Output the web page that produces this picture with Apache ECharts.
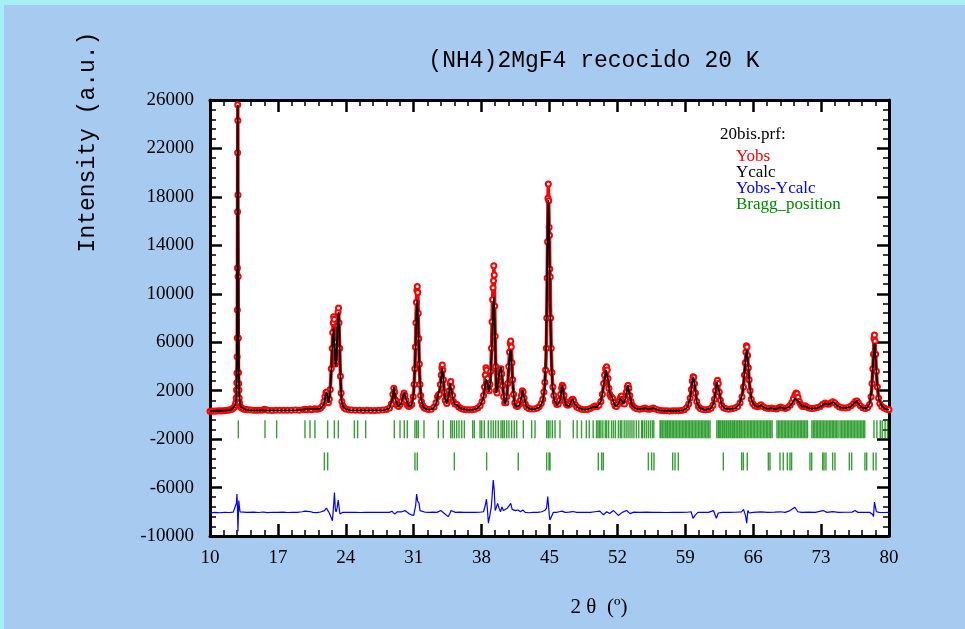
<!DOCTYPE html>
<html>
<head>
<meta charset="utf-8">
<script src="https://cdn.jsdelivr.net/npm/echarts@6/dist/echarts.min.js"></script>
<style>
  html, body { margin: 0; padding: 0; background: #a6caf0; }
  #chart { position: absolute; left: 0; top: 0; width: 965px; height: 629px; }
  .edge { position: absolute; background: #a4f0f4; z-index: 5; }
</style>
</head>
<body>
<div id="chart"></div>
<div class="edge" style="left:0;top:0;width:965px;height:5px"></div>
<div class="edge" style="left:0;top:0;width:4px;height:629px"></div>
<script>
// Rietveld plot, (NH4)2MgF4 recocido 20 K
const xTicks = [10, 17, 24, 31, 38, 45, 52, 59, 66, 73, 80]
const yTicks = [-10000, -6000, -2000, 2000, 6000, 10000, 14000, 18000, 22000, 26000]
const legendLabels = ['Yobs', 'Ycalc', 'Yobs-Ycalc', 'Bragg_position']

// [2θ, counts]
const yObs = [
  [10.0, 300], [10.2, 320], [10.4, 310], [10.6, 330], [10.8, 320], [11.0, 340], [11.2, 330], [11.4, 350],
  [11.6, 360], [11.8, 380], [12.0, 400], [12.2, 450], [12.35, 520], [12.5, 640], [12.6, 800], [12.66, 1000],
  [12.70, 1400], [12.73, 2050], [12.76, 2650], [12.78, 3450], [12.80, 4800], [12.81, 6350], [12.82, 8660],
  [12.83, 12130], [12.84, 16780], [12.85, 21650], [12.86, 25600], [12.87, 24300], [12.88, 18150],
  [12.90, 11420], [12.92, 6350], [12.94, 3500], [12.96, 2600], [12.98, 2050], [13.01, 1400], [13.05, 1000],
  [13.12, 700], [13.2, 600], [13.35, 520], [13.5, 470], [13.7, 440], [13.9, 420], [14.2, 400], [14.5, 390],
  [14.8, 380], [15.1, 380], [15.4, 390], [15.6, 470], [15.75, 420], [16.0, 380], [16.4, 370], [16.8, 390],
  [17.2, 380], [17.6, 380], [18.0, 390], [18.4, 380], [18.8, 400], [19.2, 390], [19.6, 420], [19.8, 470],
  [20.0, 420], [20.3, 480], [20.5, 430], [20.8, 500], [21.0, 460], [21.2, 480], [21.4, 560], [21.6, 750],
  [21.75, 1100], [21.85, 1500], [21.95, 1850], [22.05, 1900], [22.12, 1500], [22.2, 1000], [22.3, 1300],
  [22.4, 2100], [22.5, 3800], [22.6, 5500], [22.65, 6800], [22.7, 7600], [22.75, 8100], [22.8, 7900],
  [22.85, 6000], [22.92, 4200], [23.0, 4400], [23.08, 5600], [23.15, 7400], [23.2, 8500], [23.25, 8830],
  [23.3, 7600], [23.37, 5500], [23.45, 3200], [23.52, 1800], [23.6, 1100], [23.7, 750], [23.85, 560],
  [24.0, 480], [24.3, 430], [24.6, 400], [25.0, 390], [25.4, 380], [25.8, 370], [26.2, 380], [26.6, 370],
  [27.0, 370], [27.4, 380], [27.8, 400], [28.2, 450], [28.5, 560], [28.7, 900], [28.85, 1700], [28.95, 2200],
  [29.05, 1900], [29.15, 1200], [29.3, 800], [29.45, 700], [29.6, 850], [29.75, 1100], [29.9, 1550],
  [30.0, 1800], [30.1, 1600], [30.2, 1200], [30.35, 800], [30.5, 700], [30.65, 750], [30.8, 850],
  [30.95, 1500], [31.05, 2500], [31.12, 3800], [31.18, 5600], [31.23, 7600], [31.28, 9300], [31.33, 10300],
  [31.37, 10600], [31.42, 10100], [31.47, 8400], [31.52, 6300], [31.58, 4200], [31.65, 2500], [31.72, 1600],
  [31.8, 1100], [31.9, 800], [32.05, 600], [32.2, 520], [32.5, 450], [32.8, 470], [33.1, 650], [33.3, 1000],
  [33.45, 1500], [33.55, 1650], [33.65, 1700], [33.75, 2500], [33.83, 3300], [33.9, 3900], [33.95, 4120],
  [34.0, 3700], [34.07, 2900], [34.15, 1900], [34.25, 1200], [34.4, 950], [34.55, 1400], [34.65, 2000],
  [34.75, 2600], [34.82, 2750], [34.9, 2300], [35.0, 1600], [35.1, 1100], [35.25, 900], [35.45, 850],
  [35.65, 650], [35.85, 550], [36.1, 470], [36.4, 430], [36.7, 420], [37.0, 430], [37.3, 470], [37.6, 560],
  [37.85, 750], [38.05, 1100], [38.2, 1600], [38.3, 2300], [38.38, 3300], [38.45, 3900], [38.52, 3700],
  [38.6, 3000], [38.7, 2300], [38.78, 2000], [38.86, 2500], [38.95, 3600], [39.02, 5500], [39.08, 7700],
  [39.13, 9500], [39.18, 10500], [39.23, 11080], [39.26, 12320], [39.3, 11550], [39.35, 9000], [39.4, 6500],
  [39.45, 4000], [39.52, 2000], [39.6, 1800], [39.7, 2500], [39.8, 3200], [39.9, 3700], [40.0, 3800],
  [40.08, 3400], [40.17, 2400], [40.27, 1500], [40.38, 1000], [40.5, 1000], [40.6, 1500], [40.7, 2600],
  [40.8, 4000], [40.88, 5200], [40.95, 5900], [41.0, 6100], [41.06, 5600], [41.13, 4300], [41.2, 2900],
  [41.3, 1700], [41.42, 1000], [41.55, 750], [41.7, 700], [41.85, 850], [42.0, 1200], [42.1, 1600],
  [42.2, 2000], [42.28, 1900], [42.38, 1400], [42.5, 900], [42.65, 650], [42.85, 520], [43.1, 480],
  [43.4, 480], [43.7, 550], [43.95, 700], [44.15, 950], [44.3, 1300], [44.42, 1900], [44.52, 2700],
  [44.6, 3700], [44.67, 5500], [44.72, 8000], [44.76, 11300], [44.8, 14300], [44.84, 17880], [44.88, 19060],
  [44.92, 17690], [44.96, 15490], [45.0, 14830], [45.03, 12050], [45.07, 11410], [45.12, 8000], [45.18, 5500],
  [45.25, 3500], [45.35, 2300], [45.45, 1600], [45.6, 1100], [45.75, 850], [45.9, 900], [46.05, 1200],
  [46.15, 1700], [46.25, 2200], [46.32, 2450], [46.4, 2300], [46.5, 1600], [46.62, 1100], [46.75, 850],
  [46.9, 800], [47.05, 850], [47.2, 1100], [47.3, 1250], [47.4, 1300], [47.5, 1150], [47.65, 850],
  [47.8, 650], [48.0, 560], [48.3, 470], [48.6, 430], [48.9, 450], [49.2, 520], [49.5, 650], [49.7, 740],
  [49.9, 680], [50.1, 800], [50.3, 1100], [50.45, 1700], [50.58, 2600], [50.68, 3300], [50.78, 3800],
  [50.88, 3980], [50.95, 3700], [51.03, 3000], [51.12, 2200], [51.22, 1700], [51.32, 1500], [51.42, 1450],
  [51.52, 1350], [51.62, 1050], [51.75, 750], [51.9, 700], [52.05, 900], [52.2, 1200], [52.32, 1450],
  [52.42, 1560], [52.52, 1300], [52.62, 950], [52.72, 900], [52.82, 1300], [52.92, 1900], [53.02, 2300],
  [53.1, 2450], [53.18, 2200], [53.28, 1600], [53.4, 1100], [53.55, 800], [53.75, 600], [54.0, 500],
  [54.3, 460], [54.6, 500], [54.85, 570], [55.05, 480], [55.3, 460], [55.5, 500], [55.7, 560], [55.9, 480],
  [56.2, 400], [56.5, 360], [56.8, 340], [57.1, 340], [57.4, 330], [57.7, 340], [58.0, 340], [58.3, 350],
  [58.6, 370], [58.9, 420], [59.15, 600], [59.35, 900], [59.5, 1400], [59.62, 2100], [59.72, 2800],
  [59.8, 3150], [59.87, 3100], [59.95, 2600], [60.05, 1800], [60.18, 1100], [60.35, 700], [60.55, 520],
  [60.8, 450], [61.1, 420], [61.4, 450], [61.65, 550], [61.85, 800], [62.0, 1300], [62.12, 2000],
  [62.22, 2600], [62.32, 2850], [62.4, 2600], [62.5, 1900], [62.62, 1200], [62.75, 800], [62.95, 580],
  [63.2, 500], [63.5, 470], [63.8, 500], [64.1, 560], [64.4, 700], [64.65, 1000], [64.85, 1500], [65.0, 2300],
  [65.1, 3300], [65.18, 4300], [65.25, 5200], [65.3, 5710], [65.36, 5600], [65.42, 4900], [65.5, 3900],
  [65.58, 2900], [65.68, 2000], [65.8, 1300], [65.95, 950], [66.15, 750], [66.4, 680], [66.6, 720],
  [66.8, 830], [67.0, 700], [67.3, 560], [67.6, 520], [67.9, 560], [68.1, 520], [68.4, 480], [68.6, 560],
  [68.8, 650], [69.0, 580], [69.3, 530], [69.55, 620], [69.8, 800], [70.0, 1050], [70.15, 1350], [70.3, 1650],
  [70.42, 1800], [70.52, 1750], [70.62, 1450], [70.75, 1100], [70.9, 850], [71.05, 720], [71.2, 700],
  [71.35, 750], [71.5, 650], [71.75, 560], [72.0, 530], [72.3, 540], [72.6, 600], [72.9, 700], [73.15, 850],
  [73.4, 980], [73.6, 900], [73.8, 880], [74.0, 980], [74.2, 1080], [74.4, 1000], [74.65, 800], [74.9, 650],
  [75.2, 580], [75.5, 560], [75.8, 620], [76.1, 750], [76.35, 950], [76.55, 1120], [76.7, 1150], [76.85, 980],
  [77.05, 750], [77.3, 580], [77.55, 530], [77.8, 600], [78.0, 850], [78.15, 1500], [78.25, 2600],
  [78.33, 3800], [78.4, 5000], [78.45, 6300], [78.5, 6600], [78.56, 6100], [78.62, 5000], [78.7, 3600],
  [78.8, 2300], [78.92, 1400], [79.05, 950], [79.25, 700], [79.5, 560], [79.75, 470], [80.0, 430]
]

const yCalc = [
  [10.0, 320], [10.5, 330], [11.0, 340], [11.5, 350], [12.0, 400], [12.3, 480], [12.5, 620], [12.6, 800],
  [12.7, 1300], [12.75, 3000], [12.78, 6000], [12.81, 13000], [12.84, 22500], [12.86, 25600], [12.89, 21000],
  [12.92, 12000], [12.95, 5500], [12.98, 2800], [13.02, 1500], [13.1, 900], [13.2, 650], [13.4, 500],
  [13.7, 430], [14.0, 400], [14.5, 380], [15.0, 370], [15.5, 380], [15.65, 480], [15.8, 380], [16.5, 370],
  [17.0, 380], [18.0, 380], [19.0, 390], [19.8, 450], [20.0, 420], [20.3, 470], [20.5, 430], [20.8, 480],
  [21.0, 450], [21.4, 520], [21.7, 800], [21.9, 1500], [22.0, 1900], [22.1, 1700], [22.2, 1000], [22.35, 1500],
  [22.5, 3500], [22.65, 6300], [22.75, 7200], [22.85, 5600], [22.95, 4000], [23.05, 4600], [23.15, 7400],
  [23.25, 8500], [23.35, 6500], [23.45, 3000], [23.55, 1300], [23.7, 700], [24.0, 480], [24.5, 400],
  [25.0, 380], [25.5, 370], [26.0, 380], [27.0, 370], [28.0, 400], [28.5, 550], [28.8, 1300], [28.97, 2300],
  [29.15, 1200], [29.4, 700], [29.7, 900], [29.9, 1500], [30.03, 1850], [30.2, 1300], [30.5, 700],
  [30.8, 800], [31.0, 1800], [31.15, 4500], [31.28, 8200], [31.37, 9500], [31.47, 7600], [31.6, 3500],
  [31.75, 1400], [31.95, 700], [32.2, 500], [32.5, 430], [33.0, 500], [33.3, 900], [33.5, 1600], [33.6, 1500],
  [33.75, 2300], [33.87, 3500], [33.95, 3850], [34.05, 3100], [34.2, 1400], [34.4, 900], [34.6, 1600],
  [34.75, 2600], [34.85, 2700], [35.0, 1500], [35.2, 900], [35.45, 820], [35.7, 600], [36.0, 480],
  [36.5, 420], [37.0, 420], [37.5, 500], [37.9, 800], [38.2, 1500], [38.45, 2900], [38.6, 2700],
  [38.75, 1900], [38.9, 2600], [39.05, 5500], [39.18, 8800], [39.28, 9750], [39.4, 6000], [39.52, 1800],
  [39.65, 2300], [39.85, 3600], [40.0, 3950], [40.15, 2800], [40.3, 1300], [40.45, 900], [40.6, 1500],
  [40.8, 3800], [40.95, 5400], [41.05, 5100], [41.2, 2600], [41.4, 900], [41.6, 650], [41.9, 800],
  [42.1, 1500], [42.23, 2050], [42.4, 1400], [42.6, 700], [43.0, 480], [43.5, 470], [44.0, 650],
  [44.3, 1100], [44.5, 2200], [44.62, 4500], [44.72, 9500], [44.8, 15000], [44.88, 17750], [44.96, 15500],
  [45.05, 10500], [45.15, 5500], [45.3, 2400], [45.5, 1200], [45.8, 800], [46.1, 1200], [46.25, 2200],
  [46.35, 2450], [46.5, 1500], [46.7, 800], [47.0, 700], [47.25, 1100], [47.4, 1300], [47.6, 900],
  [48.0, 550], [48.5, 430], [49.0, 480], [49.5, 650], [49.7, 730], [49.9, 650], [50.3, 1100], [50.6, 2500],
  [50.8, 3700], [50.9, 3850], [51.05, 2900], [51.2, 1800], [51.45, 1450], [51.6, 1100], [51.8, 700],
  [52.1, 900], [52.3, 1400], [52.45, 1550], [52.65, 900], [52.85, 1400], [53.0, 2200], [53.1, 2450],
  [53.25, 1700], [53.5, 800], [53.8, 550], [54.2, 450], [54.85, 560], [55.2, 450], [55.7, 550], [56.0, 430],
  [56.5, 360], [57.0, 340], [58.0, 340], [58.8, 380], [59.2, 600], [59.5, 1300], [59.7, 2700], [59.83, 3150],
  [59.97, 2500], [60.2, 1000], [60.5, 550], [61.0, 420], [61.6, 500], [61.9, 900], [62.1, 1800],
  [62.25, 2700], [62.34, 2830], [62.5, 1900], [62.75, 800], [63.1, 520], [63.6, 480], [64.2, 550],
  [64.6, 900], [64.9, 1800], [65.1, 3500], [65.25, 5000], [65.33, 5400], [65.45, 4600], [65.6, 2700],
  [65.8, 1300], [66.1, 800], [66.5, 650], [66.8, 800], [67.1, 600], [67.5, 500], [67.9, 560], [68.3, 460],
  [68.8, 640], [69.2, 500], [69.7, 650], [70.0, 950], [70.3, 1350], [70.48, 1500], [70.7, 1100], [71.0, 700],
  [71.3, 730], [71.6, 580], [72.0, 520], [72.5, 560], [73.0, 700], [73.4, 960], [73.7, 850], [74.0, 950],
  [74.26, 1070], [74.6, 800], [75.0, 600], [75.5, 550], [76.0, 650], [76.4, 950], [76.67, 1150],
  [76.95, 800], [77.3, 550], [77.7, 550], [78.0, 900], [78.2, 2000], [78.35, 4200], [78.5, 5900],
  [78.62, 4800], [78.75, 2800], [78.95, 1300], [79.2, 800], [79.5, 550], [79.76, 460], [80.0, 420]
]

// difference curve as drawn (offset to about -8000)
const yDiff = [
  [10.0, -8100], [10.5, -8050], [11.0, -8080], [11.5, -8050], [12.0, -8060], [12.4, -8030], [12.6, -7900],
  [12.72, -7300], [12.78, -6530], [12.82, -7400], [12.86, -8800], [12.88, -9600], [12.92, -8400],
  [12.97, -7080], [13.03, -7600], [13.1, -8000], [13.3, -8100], [13.8, -8050], [14.5, -8030], [15.0, -8060],
  [15.5, -8020], [15.7, -7950], [15.9, -8070], [16.5, -8040], [17.0, -8050], [17.5, -8030], [18.0, -8060],
  [18.5, -8040], [19.0, -8050], [19.5, -8000], [19.8, -7950], [20.0, -8070], [20.3, -7980], [20.6, -8050],
  [20.8, -7950], [21.0, -8070], [21.4, -8020], [21.8, -7900], [22.0, -7700], [22.15, -7630], [22.3, -8100],
  [22.5, -8500], [22.62, -8740], [22.75, -7400], [22.83, -6420], [22.92, -7790], [23.0, -8000], [23.1, -7700],
  [23.22, -7030], [23.3, -7600], [23.4, -8180], [23.5, -8250], [23.65, -8050], [24.0, -8050], [24.5, -8040],
  [25.0, -8050], [25.5, -8060], [26.0, -8040], [26.5, -8050], [27.0, -8040], [27.5, -8050], [28.0, -8040],
  [28.5, -8050], [28.75, -7950], [28.9, -7800], [29.05, -8200], [29.15, -8350], [29.3, -8000], [29.5, -7900],
  [29.75, -8000], [29.95, -8120], [30.1, -7900], [30.3, -8050], [30.5, -8150], [30.75, -8250], [31.0, -8300],
  [31.1, -8400], [31.2, -7500], [31.3, -6530], [31.4, -7100], [31.55, -7300], [31.65, -7900], [31.8, -8050],
  [32.2, -8040], [32.6, -8050], [33.0, -8030], [33.4, -8050], [33.6, -8000], [33.8, -7900], [33.95, -7800],
  [34.1, -8100], [34.3, -8150], [34.55, -8400], [34.7, -8200], [34.85, -7900], [35.0, -8000], [35.3, -8050],
  [35.7, -8030], [36.2, -8050], [36.8, -8040], [37.3, -8050], [37.8, -8040], [38.2, -8000], [38.4, -7400],
  [38.5, -6960], [38.6, -7800], [38.7, -8940], [38.85, -8300], [39.0, -7600], [39.1, -6500], [39.2, -5380],
  [39.3, -6200], [39.4, -7900], [39.5, -7700], [39.65, -7300], [39.8, -7700], [39.95, -8000], [40.1, -7600],
  [40.25, -7900], [40.45, -7750], [40.65, -7700], [40.85, -7500], [41.0, -7300], [41.15, -7800],
  [41.35, -7950], [41.5, -7900], [41.75, -7850], [42.0, -8000], [42.25, -7850], [42.5, -8050], [42.9, -8080],
  [43.3, -8050], [43.8, -8050], [44.2, -8000], [44.5, -7900], [44.7, -7700], [44.82, -6750], [44.9, -7500],
  [44.98, -8300], [45.05, -8680], [45.15, -8750], [45.25, -8300], [45.4, -8050], [45.7, -8050], [46.0, -8000],
  [46.3, -7950], [46.6, -8050], [47.0, -8030], [47.4, -7980], [47.8, -8050], [48.5, -8040], [49.2, -8050],
  [49.7, -8000], [50.2, -7950], [50.55, -8250], [50.9, -8000], [51.2, -8150], [51.6, -7900], [52.1, -8300],
  [52.5, -8050], [52.95, -7900], [53.3, -8150], [53.7, -8030], [54.3, -8050], [55.0, -8030], [55.6, -8050],
  [56.3, -8050], [57.0, -8060], [57.8, -8050], [58.6, -8050], [59.2, -8040], [59.6, -8000], [59.8, -8540],
  [60.0, -8300], [60.3, -8050], [60.8, -8040], [61.4, -8050], [61.9, -7900], [62.05, -7950], [62.2, -8540],
  [62.4, -8100], [62.8, -8050], [63.5, -8050], [64.2, -8040], [64.8, -8000], [65.0, -7800], [65.2, -8300],
  [65.33, -8940], [65.45, -7900], [65.6, -8100], [66.0, -8050], [66.8, -8000], [67.5, -8050], [68.2, -8030],
  [68.8, -8000], [69.3, -8050], [69.8, -7900], [70.3, -7630], [70.6, -8000], [71.0, -8050], [71.7, -8030],
  [72.4, -8050], [73.2, -7900], [73.6, -8050], [74.2, -7980], [74.8, -8050], [75.5, -8040], [76.2, -8030],
  [76.5, -7900], [76.8, -8050], [77.4, -8040], [78.0, -8050], [78.3, -8200], [78.4, -8400], [78.5, -7200],
  [78.6, -7350], [78.7, -8000], [78.85, -7950], [79.0, -8050], [79.5, -8060], [80.0, -8050]
]

// Bragg reflections, phase 1 (upper row) and phase 2 (lower row)
const bragg1 = [
  12.92, 15.67, 16.87, 19.79, 20.31, 20.82, 22.13, 22.82, 23.23, 24.88, 25.22, 26.05, 29.0, 29.59, 30.03,
  30.34, 31.13, 31.31, 31.48, 32.06, 33.54, 34.05, 34.81, 34.98, 35.19, 35.43, 35.67, 35.95, 36.22, 37.08,
  37.25, 37.84, 38.01, 38.28, 38.69, 38.97, 39.21, 39.45, 39.72, 40.0, 40.17, 40.34, 40.59, 40.82, 41.1,
  41.37, 41.62, 42.3, 43.16, 43.51, 44.71, 44.88, 45.05, 45.29, 45.57, 46.08, 47.45, 47.85, 48.3, 48.8,
  49.1, 49.5, 49.85, 50.0, 50.15, 50.3, 50.5, 50.75, 50.9, 51.1, 51.4, 51.6, 51.8, 52.1, 52.3, 52.45, 52.7,
  52.9, 53.1, 53.3, 53.5, 53.7, 53.95, 54.2, 54.5, 54.6, 54.8, 55.0, 55.2, 55.4, 55.6, 55.75, 56.4, 56.5,
  56.65, 56.8, 56.95, 57.1, 57.2, 57.35, 57.5, 57.65, 57.8, 57.95, 58.1, 58.25, 58.4, 58.55, 58.7, 58.85,
  59.0, 59.15, 59.3, 59.45, 59.6, 59.75, 59.9, 60.05, 60.2, 60.35, 60.5, 60.65, 60.8, 60.95, 61.1, 61.25,
  61.4, 61.55, 62.25, 62.4, 62.5, 62.65, 62.8, 62.9, 63.05, 63.2, 63.3, 63.45, 63.6, 63.7, 63.85, 64.0,
  64.1, 64.25, 64.4, 64.55, 64.65, 64.8, 64.95, 65.1, 65.25, 65.4, 65.55, 65.7, 65.85, 66.0, 66.15, 66.3,
  66.45, 66.6, 66.75, 66.9, 67.05, 67.2, 67.35, 67.5, 67.65, 67.8, 67.95, 68.45, 68.6, 68.75, 68.9, 69.05,
  69.2, 69.35, 69.5, 69.65, 69.8, 69.95, 70.1, 70.25, 70.4, 70.55, 70.7, 70.85, 71.0, 71.15, 71.3, 71.45,
  71.6, 72.05, 72.2, 72.35, 72.5, 72.65, 72.8, 72.95, 73.1, 73.25, 73.4, 73.55, 73.7, 73.85, 74.0, 74.15,
  74.3, 74.45, 74.6, 74.75, 74.95, 75.1, 75.25, 75.4, 75.55, 75.7, 75.85, 76.0, 76.15, 76.3, 76.45, 76.6,
  76.75, 76.9, 77.05, 77.2, 77.35, 77.5, 78.45, 78.75, 79.1, 79.3, 79.6, 79.85
]
const bragg2 = [
  21.79, 22.13, 31.13, 31.37, 35.19, 38.52, 41.78, 44.71, 44.95, 45.05, 50.03, 50.38, 50.55, 55.19, 55.53,
  55.77, 57.7, 57.94, 58.28, 62.92, 64.81, 64.98, 65.39, 67.56, 67.73, 68.76, 69.1, 69.52, 69.79, 69.96,
  71.85, 72.03, 73.16, 73.3, 73.5, 74.19, 74.43, 75.91, 76.15, 77.52, 77.7, 78.38, 78.66
]
const braggRowY = [-1190, -3840]

// the x axis starts at 10° with a 7° step, so plot against (2θ - 10)
const X0 = xTicks[0]
const shift = (pts) => pts.map(([t, v]) => [t - X0, v])
const serif = 'Liberation Serif'
const mono = 'Liberation Mono'

const xBase = {
  type: 'value',
  min: 0,
  max: xTicks[xTicks.length - 1] - X0,
  interval: xTicks[1] - xTicks[0],
  axisLine: { show: true, onZero: false, lineStyle: { color: '#000', width: 3 } },
  axisTick: { show: true, inside: true, length: 12, lineStyle: { color: '#000', width: 2.5 } },
  minorTick: { show: true, splitNumber: 5, length: 6, lineStyle: { color: '#000', width: 1.5 } },
  splitLine: { show: false },
}
const yBase = {
  type: 'value',
  min: yTicks[0],
  max: yTicks[yTicks.length - 1],
  interval: yTicks[1] - yTicks[0],
  axisLine: { show: true, onZero: false, lineStyle: { color: '#000', width: 3 } },
  axisTick: { show: true, inside: true, length: 12, lineStyle: { color: '#000', width: 2.5 } },
  minorTick: { show: true, splitNumber: 5, length: 6, lineStyle: { color: '#000', width: 1.5 } },
  splitLine: { show: false },
}

const braggSeries = (list, y) => ({
  type: 'scatter',
  symbol: 'rect',
  symbolSize: [1.4, 18],
  itemStyle: { color: '#008800' },
  z: 1,
  data: list.map((t) => [t - X0, y]),
})

const legendColors = ['#ff0000', '#000000', '#0000ff', '#008800']
const label = (x, y, str, font, color, align, extra) =>
  Object.assign({
    type: 'text', x, y, silent: true,
    style: {
      text: str, fill: color, font,
      align, verticalAlign: 'middle', textAlign: align, textVerticalAlign: 'middle',
    },
  }, extra || {})

const chart = echarts.init(document.getElementById('chart'), null, { renderer: 'canvas' })
chart.setOption({
  animation: false,
  backgroundColor: '#a6caf0',
  grid: { left: 210, right: 76, top: 100, bottom: 93, show: true, backgroundColor: '#ffffff', borderWidth: 0 },
  xAxis: [
    {
      ...xBase,
      position: 'bottom',
      axisLabel: {
        color: '#000', fontFamily: serif, fontSize: 19, margin: 13,
        formatter: (v) => String(v + X0),
      },
    },
    { ...xBase, position: 'top', axisLabel: { show: false } },
  ],
  yAxis: [
    {
      ...yBase,
      position: 'left',
      axisLabel: { color: '#000', fontFamily: serif, fontSize: 19, margin: 16, formatter: (v) => String(v) },
    },
    { ...yBase, position: 'right', axisLabel: { show: false } },
  ],
  graphic: [
    label(594, 61, '(NH4)2MgF4 recocido 20 K', `23px ${mono}`, '#000', 'center'),
    label(88, 142, 'Intensity (a.u.)', `23px ${mono}`, '#000', 'center', { rotation: Math.PI / 2 }),
    label(599, 607, '2 θ  (º)', `21px ${serif}`, '#000', 'center'),
    label(720, 135, '20bis.prf:', `17px ${serif}`, '#000', 'left'),
    ...legendLabels.map((s, i) => label(736, 157 + i * 16, s, `17px ${serif}`, legendColors[i], 'left')),
  ],
  series: [
    braggSeries(bragg1, braggRowY[0]),
    braggSeries(bragg2, braggRowY[1]),
    {
      name: 'Yobs',
      type: 'line',
      data: shift(yObs),
      symbol: 'emptyCircle',
      symbolSize: 5,
      showSymbol: true,
      lineStyle: { color: '#ff0000', width: 3.5 },
      itemStyle: { color: '#ff0000', borderColor: '#ff0000', borderWidth: 1.5 },
      z: 2,
    },
    {
      name: 'Ycalc',
      type: 'line',
      data: shift(yCalc),
      showSymbol: false,
      lineStyle: { color: '#000', width: 1.8 },
      z: 3,
    },
    {
      name: 'Yobs-Ycalc',
      type: 'line',
      data: shift(yDiff),
      showSymbol: false,
      lineStyle: { color: '#0000ff', width: 1.2 },
      z: 3,
    },
  ],
})
</script>
</body>
</html>
